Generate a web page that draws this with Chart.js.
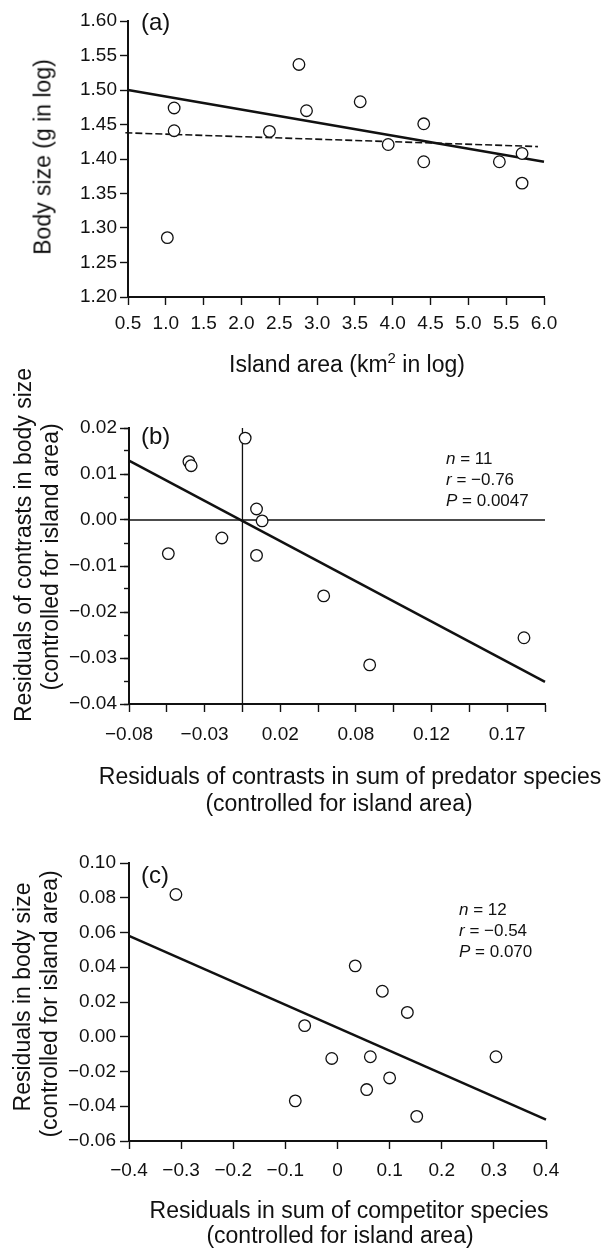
<!DOCTYPE html>
<html>
<head>
<meta charset="utf-8">
<title>Body size, island area, predators and competitors</title>
<script src="https://cdn.jsdelivr.net/npm/chart.js@4.4.1/dist/chart.umd.min.js"></script>
<style>
html, body { margin: 0; padding: 0; background: #fff; }
#fig { position: relative; width: 606px; height: 1250px; overflow: hidden; }
#fig canvas { position: absolute; left: 0; }
.txt { position: absolute; white-space: nowrap; line-height: 1; color: #111;
       font-family: "Liberation Sans", Arial, Helvetica, sans-serif; }
.mid { transform: translate(-50%, -50%); }
.rot { transform: translate(-50%, -50%) rotate(-90deg); }
.lft { transform: translateY(-50%); }
.ttl { font-size: 23px; }
.tag { font-size: 24px; }
.st  { font-size: 17px; line-height: 21px; }
.sup { font-size: 15px; vertical-align: 9px; }
</style>
</head>
<body>
<div id="fig">
  <canvas id="chartA" width="606" height="395" style="top:0px"></canvas>
  <canvas id="chartB" width="606" height="425" style="top:395px"></canvas>
  <canvas id="chartC" width="606" height="430" style="top:820px"></canvas>

  <!-- (a) -->
  <div class="txt tag lft" style="left:141px;top:22px">(a)</div>
  <div class="txt ttl rot" style="left:43px;top:157px">Body size (g in log)</div>
  <div class="txt ttl mid" style="left:347px;top:363px">Island area (km<span class="sup">2</span> in log)</div>

  <!-- (b) -->
  <div class="txt tag lft" style="left:141px;top:436px">(b)</div>
  <div class="txt ttl rot" style="left:23px;top:545px">Residuals of contrasts in body size</div>
  <div class="txt ttl rot" style="left:50px;top:557px">(controlled for island area)</div>
  <div class="txt ttl mid" style="left:350px;top:776px">Residuals of contrasts in sum of predator species</div>
  <div class="txt ttl mid" style="left:339px;top:803px">(controlled for island area)</div>
  <div id="statsB" class="txt st" style="left:446px;top:448px"></div>

  <!-- (c) -->
  <div class="txt tag lft" style="left:141px;top:875px">(c)</div>
  <div class="txt ttl rot" style="left:22px;top:997px">Residuals in body size</div>
  <div class="txt ttl rot" style="left:49px;top:1004px">(controlled for island area)</div>
  <div class="txt ttl mid" style="left:349px;top:1210px">Residuals in sum of competitor species</div>
  <div class="txt ttl mid" style="left:340px;top:1235px">(controlled for island area)</div>
  <div id="statsC" class="txt st" style="left:459px;top:899px"></div>
</div>

<script>
// ==========================
// DATA
// ==========================

// (a) body size against island area
const areaA  = [1.02, 1.11, 1.11, 2.37, 2.76, 2.86, 3.57, 3.94, 4.41, 4.41, 5.41, 5.71, 5.71];
const sizeA  = [1.286, 1.474, 1.441, 1.440, 1.537, 1.470, 1.483, 1.421, 1.451, 1.396, 1.396, 1.408, 1.365];
const fitAX  = [0.5, 6.0];
const fitAY  = [1.500, 1.396];
const trendAX = [0.465, 5.92];
const trendAY = [1.438, 1.418];
const xTicksA = ["0.5", "1.0", "1.5", "2.0", "2.5", "3.0", "3.5", "4.0", "4.5", "5.0", "5.5", "6.0"];
const yTicksA = ["1.20", "1.25", "1.30", "1.35", "1.40", "1.45", "1.50", "1.55", "1.60"];

// (b) contrasts: body size against predator species
const predB  = [-0.0490, -0.0354, -0.0339, -0.0136, 0.0018, 0.0093, 0.0130, 0.0093, 0.0537, 0.0841, 0.1861];
const sizeB  = [-0.0073, 0.0127, 0.0118, -0.0039, 0.0178, 0.0024, -0.0002, -0.0077, -0.0165, -0.0315, -0.0256];
const fitBX  = [-0.075, 0.2];
const fitBY  = [0.0129, -0.0352];
const xTicksB = ["−0.08", "", "−0.03", "", "0.02", "", "0.08", "", "0.12", "", "0.17", ""];
const yTicksB = ["−0.04", "−0.03", "−0.02", "−0.01", "0.00", "0.01", "0.02"];
const statsB  = ["11", "−0.76", "0.0047"];

// (c) residuals: body size against competitor species
const compC  = [-0.310, 0.034, 0.086, 0.134, -0.063, -0.011, 0.063, 0.304, 0.100, 0.056, -0.081, 0.152];
const sizeC  = [0.0819, 0.0408, 0.0262, 0.0140, 0.0064, -0.0125, -0.0115, -0.0115, -0.0237, -0.0304, -0.0369, -0.0458];
const fitCX  = [-0.4, 0.4];
const fitCY  = [0.0581, -0.0477];
const xTicksC = ["−0.4", "−0.3", "−0.2", "−0.1", "0", "0.1", "0.2", "0.3", "0.4"];
const yTicksC = ["−0.06", "−0.04", "−0.02", "0.00", "0.02", "0.04", "0.06", "0.08", "0.10"];
const statsC  = ["12", "−0.54", "0.070"];

const statNames = ["n", "r", "P"];


// ==========================
// HELPERS
// ==========================

const ink = "#111";
const FONT = "'Liberation Sans', Arial, Helvetica, sans-serif";

const xy = (xs, ys) => xs.map((x, i) => ({ x: x, y: ys[i] }));

// fixed axis box size so the plot area lands where the figure has it
const fixSize = px => scale => {
    if (scale.isHorizontal()) scale.height = px;
    else scale.width = px;
};

function axis(o) {
    return {
        type: "linear",
        position: o.pos,
        weight: o.weight || 0,
        min: o.min,
        max: o.max,
        afterFit: fixSize(o.size),
        ticks: {
            stepSize: o.step,
            autoSkip: false,
            maxRotation: 0,
            padding: o.pad,
            font: { size: 19, family: FONT },
            color: ink,
            callback: (v, i) => o.labels ? o.labels[i] : ""
        },
        grid: {
            drawOnChartArea: false,
            tickLength: o.tick,
            tickWidth: 1.4,
            tickColor: ink
        },
        border: { display: o.border !== false, width: 2, color: ink }
    };
}

function panel(id, o) {
    const sets = [{
        data: xy(o.xs, o.ys),
        pointRadius: 5.8,
        pointBorderWidth: 1.3,
        pointBackgroundColor: "#fff",
        pointBorderColor: ink,
        order: 0
    }];
    o.lines.forEach(l => sets.push({
        data: xy(l.xs, l.ys),
        showLine: true,
        borderColor: ink,
        borderWidth: l.width,
        borderDash: l.dash || [],
        pointRadius: 0,
        clip: false,
        order: 1
    }));
    return new Chart(document.getElementById(id), {
        type: "scatter",
        data: { datasets: sets },
        options: {
            responsive: false,
            animation: false,
            events: [],
            layout: { padding: { top: o.top, right: o.right, left: 0, bottom: 0 } },
            plugins: { legend: { display: false }, tooltip: { enabled: false } },
            scales: o.scales
        }
    });
}

function writeStats(id, vals) {
    document.getElementById(id).innerHTML = statNames
        .map((k, i) => "<div><i>" + k + "</i> = " + vals[i] + "</div>")
        .join("");
}


// ==========================
// (a)
// ==========================

panel("chartA", {
    xs: areaA, ys: sizeA, top: 21, right: 62,
    lines: [
        { xs: fitAX, ys: fitAY, width: 2.5 },
        { xs: trendAX, ys: trendAY, width: 1.6, dash: [7, 3] }
    ],
    scales: {
        x: axis({ pos: "bottom", min: 0.5, max: 6.0, step: 0.5, size: 98, pad: 7, tick: 8, labels: xTicksA }),
        y: axis({ pos: "left", min: 1.2, max: 1.6, step: 0.05, size: 128, pad: 3, tick: 8, labels: yTicksA })
    }
});


// ==========================
// (b)
// ==========================

const xMinB = -0.075, xMaxB = 0.2, yMinB = -0.04, yMaxB = 0.02;

panel("chartB", {
    xs: predB, ys: sizeB, top: 33, right: 61,
    lines: [
        { xs: fitBX, ys: fitBY, width: 2.5 },
        { xs: [0, 0], ys: [yMinB, yMaxB], width: 1.3 },
        { xs: [xMinB, xMaxB], ys: [0, 0], width: 1.3 }
    ],
    scales: {
        x: axis({ pos: "bottom", min: xMinB, max: xMaxB, step: 0.025, size: 116, pad: 11, tick: 8, labels: xTicksB }),
        y: axis({ pos: "left", weight: 1, min: yMinB, max: yMaxB, step: 0.01, size: 129, pad: 3, tick: 9, labels: yTicksB }),
        yMinor: axis({ pos: "left", weight: 0, min: yMinB, max: yMaxB, step: 0.005, size: 0, pad: 0, tick: 5, border: false })
    }
});
writeStats("statsB", statsB);


// ==========================
// (c)
// ==========================

panel("chartC", {
    xs: compC, ys: sizeC, top: 43, right: 60,
    lines: [
        { xs: fitCX, ys: fitCY, width: 2.5 }
    ],
    scales: {
        x: axis({ pos: "bottom", min: -0.4, max: 0.4, step: 0.1, size: 109, pad: 10, tick: 8, labels: xTicksC }),
        y: axis({ pos: "left", min: -0.06, max: 0.10, step: 0.02, size: 129, pad: 4, tick: 9, labels: yTicksC })
    }
});
writeStats("statsC", statsC);
</script>
</body>
</html>
